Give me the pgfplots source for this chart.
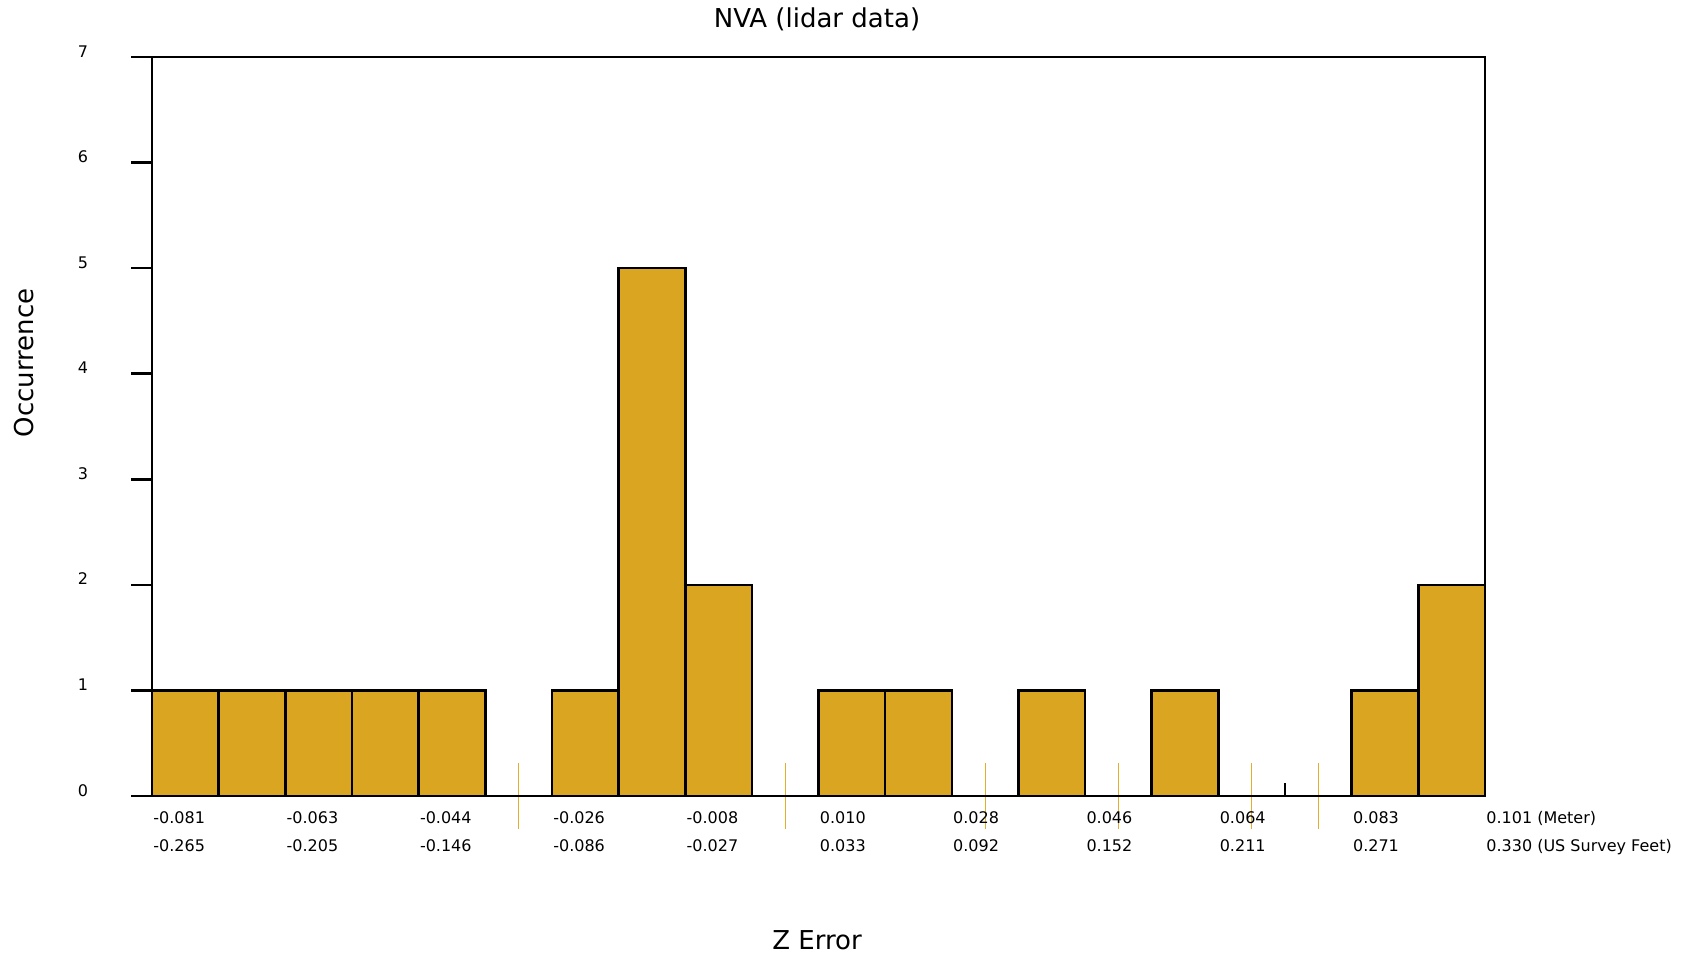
\documentclass[border=0pt]{standalone}
\usepackage{fontspec}
\setmainfont{DejaVu Sans}
\usepackage{pgfplots}
\pgfplotsset{compat=1.18}
\definecolor{barc}{HTML}{DAA520}
\definecolor{markc}{HTML}{E3AE2E}
\begin{document}
\begin{tikzpicture}
\path[use as bounding box] (0,0) rectangle (845pt,477.5pt);
\begin{axis}[at={(76pt,79.5pt)}, anchor=south west, scale only axis,
  width=666.5pt, height=369.5pt, xmin=0, xmax=20, ymin=0, ymax=7,
  hide axis, clip=false]
\addplot[ybar interval, fill=barc, draw=black, line width=1.3pt] coordinates {
(0,1) (1,1) (2,1) (3,1) (4,1) (5,0) (6,1) (7,5) (8,2) (9,0) (10,1)
(11,1) (12,0) (13,1) (14,0) (15,1) (16,0) (17,0) (18,1) (19,2) (20,2)};
\addplot[markc, line width=0.6pt] coordinates {(5.5,-0.31) (5.5,0.31)};
\addplot[markc, line width=0.6pt] coordinates {(9.5,-0.31) (9.5,0.31)};
\addplot[markc, line width=0.6pt] coordinates {(12.5,-0.31) (12.5,0.31)};
\addplot[markc, line width=0.6pt] coordinates {(14.5,-0.31) (14.5,0.31)};
\addplot[markc, line width=0.6pt] coordinates {(16.5,-0.31) (16.5,0.31)};
\addplot[markc, line width=0.6pt] coordinates {(17.5,-0.31) (17.5,0.31)};
\addplot[black, line width=1.3pt] coordinates {(17,0) (17,0.12)};
% frame
\draw[line width=1.3pt] ([xshift=-10.5pt]axis cs:0,7) -- (axis cs:20,7) -- (axis cs:20,0);
\draw[line width=1.3pt] ([xshift=-10.5pt]axis cs:0,0) -- (axis cs:20,0);
\draw[line width=1.3pt] (axis cs:0,0) -- (axis cs:0,7);
\draw[line width=1.3pt] ([xshift=-10.5pt]axis cs:0,1) -- (axis cs:0,1);
\draw[line width=1.3pt] ([xshift=-10.5pt]axis cs:0,2) -- (axis cs:0,2);
\draw[line width=1.3pt] ([xshift=-10.5pt]axis cs:0,3) -- (axis cs:0,3);
\draw[line width=1.3pt] ([xshift=-10.5pt]axis cs:0,4) -- (axis cs:0,4);
\draw[line width=1.3pt] ([xshift=-10.5pt]axis cs:0,5) -- (axis cs:0,5);
\draw[line width=1.3pt] ([xshift=-10.5pt]axis cs:0,6) -- (axis cs:0,6);
% y tick labels
\begin{scope}[every node/.style={font=\fontsize{8}{9}\selectfont, anchor=base, inner sep=0pt, xshift=-34.5pt}]
\node at (axis cs:0,0) {0};
\node at (axis cs:0,1) {1};
\node at (axis cs:0,2) {2};
\node at (axis cs:0,3) {3};
\node at (axis cs:0,4) {4};
\node at (axis cs:0,5) {5};
\node at (axis cs:0,6) {6};
\node at (axis cs:0,7) {7};
\end{scope}
% x labels (meter)
\begin{scope}[every node/.style={font=\fontsize{8}{9}\selectfont, anchor=base west, inner sep=0pt, xshift=0.5pt, yshift=-13.5pt}]
\node at (axis cs:0,0) {-0.081};
\node at (axis cs:2,0) {-0.063};
\node at (axis cs:4,0) {-0.044};
\node at (axis cs:6,0) {-0.026};
\node at (axis cs:8,0) {-0.008};
\node at (axis cs:10,0) {0.010};
\node at (axis cs:12,0) {0.028};
\node at (axis cs:14,0) {0.046};
\node at (axis cs:16,0) {0.064};
\node at (axis cs:18,0) {0.083};
\node at (axis cs:20,0) {0.101 (Meter)};
\end{scope}
% x labels (feet)
\begin{scope}[every node/.style={font=\fontsize{8}{9}\selectfont, anchor=base west, inner sep=0pt, xshift=0.5pt, yshift=-27.5pt}]
\node at (axis cs:0,0) {-0.265};
\node at (axis cs:2,0) {-0.205};
\node at (axis cs:4,0) {-0.146};
\node at (axis cs:6,0) {-0.086};
\node at (axis cs:8,0) {-0.027};
\node at (axis cs:10,0) {0.033};
\node at (axis cs:12,0) {0.092};
\node at (axis cs:14,0) {0.152};
\node at (axis cs:16,0) {0.211};
\node at (axis cs:18,0) {0.271};
\node at (axis cs:20,0) {0.330 (US Survey Feet)};
\end{scope}
\end{axis}
\node[anchor=base, inner sep=0pt, font=\fontsize{13}{15}\selectfont] at (408.5pt,463.5pt) {NVA (lidar data)};
\node[anchor=base, inner sep=0pt, font=\fontsize{13}{15}\selectfont] at (408.5pt,3pt) {Z Error};
\node[anchor=base, inner sep=0pt, rotate=90, font=\fontsize{13}{15}\selectfont] at (16.5pt,296pt) {Occurrence};
\end{tikzpicture}
\end{document}
